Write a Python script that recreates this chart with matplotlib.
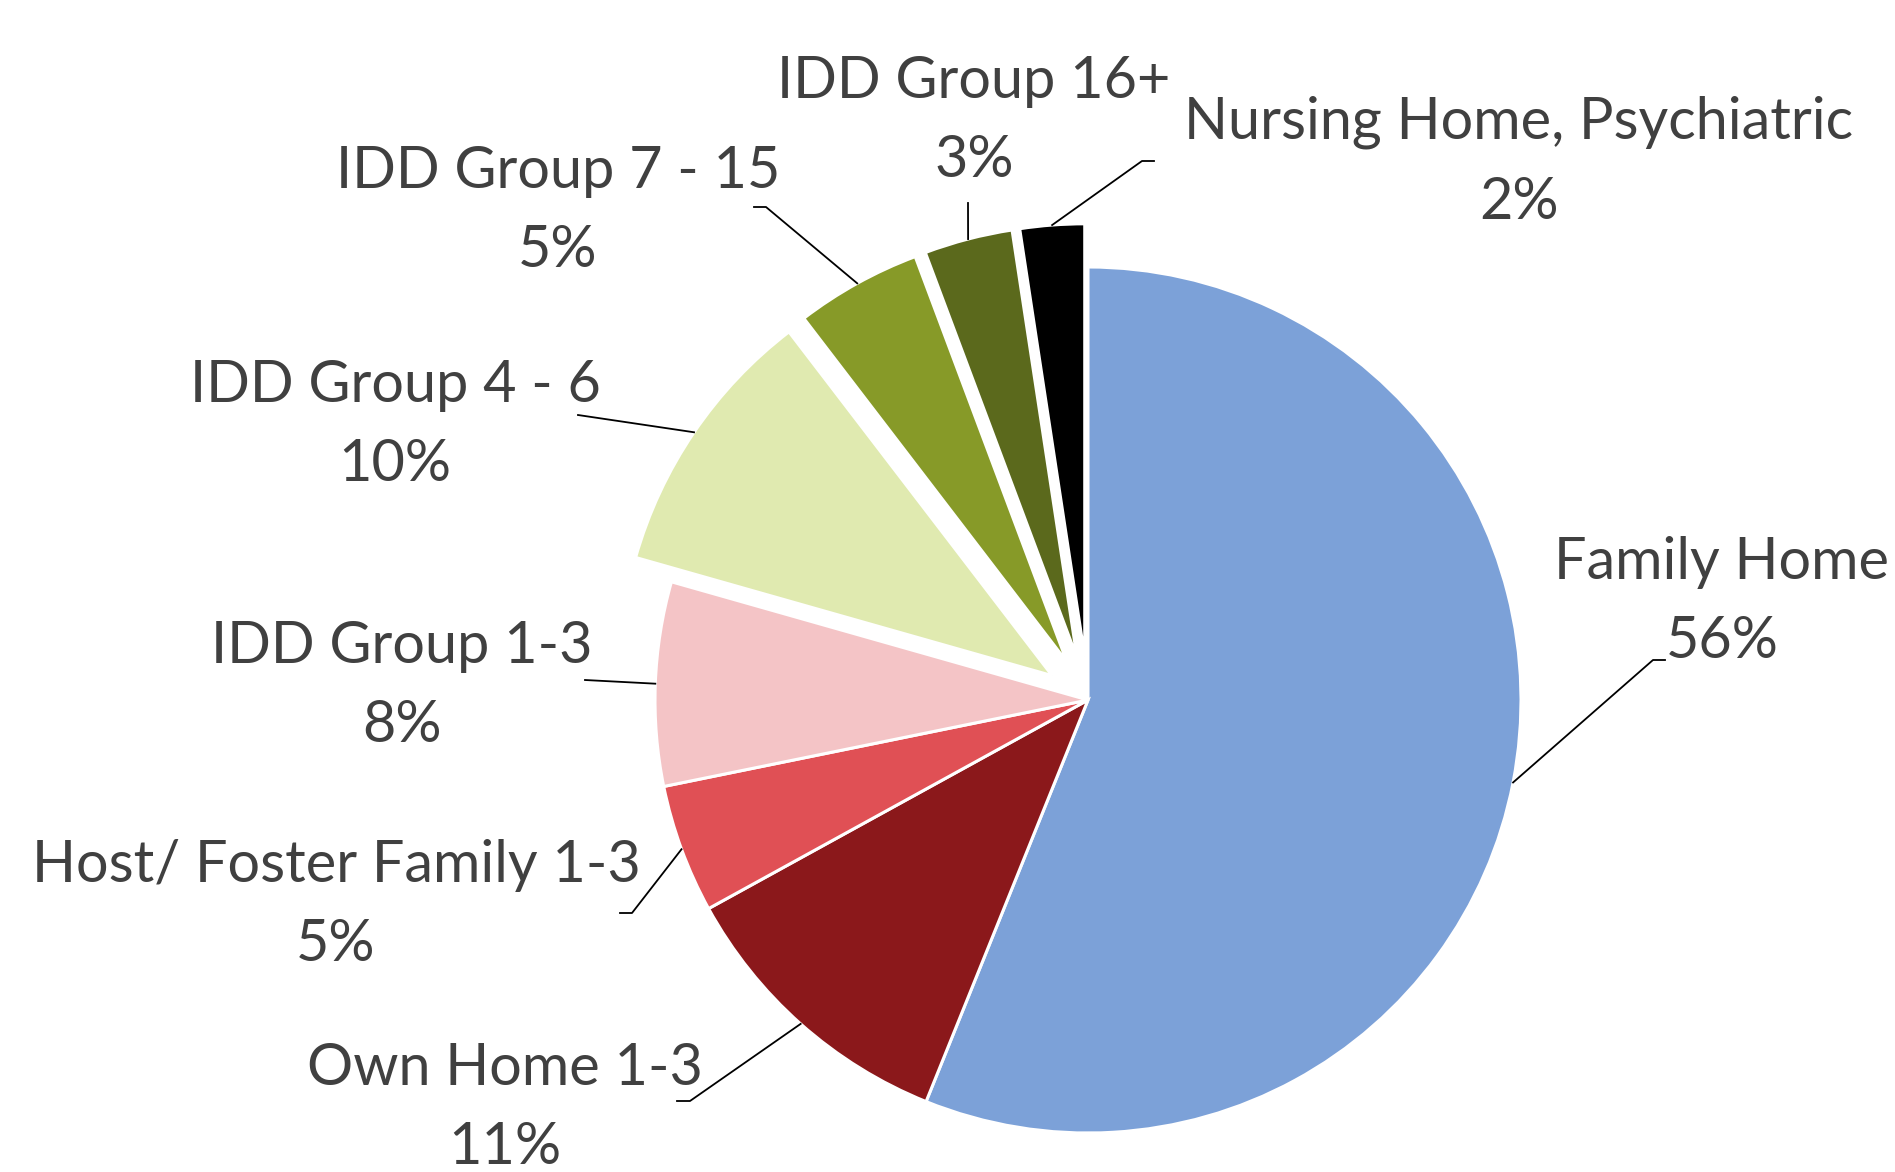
import numpy as np
import matplotlib.pyplot as plt

categories = ['Family Home', 'Own Home 1-3', 'Host/ Foster Family 1-3', 'IDD Group 1-3',
              'IDD Group 4 - 6', 'IDD Group 7 - 15', 'IDD Group 16+', 'Nursing Home, Psychiatric']
shares = [56.1, 10.9, 4.8, 7.6, 10.2, 4.7, 3.3, 2.4]
colors = ['#7CA1D8', '#8B181B', '#E05055', '#F4C4C6', '#E0EAB0', '#879A28', '#5B691C', '#000000']
explode = [0, 0, 0, 0, 0.1, 0.1, 0.1, 0.1]

W, H = 1895, 1172
CX, CY, R = 1088, 700, 433

# label centres and leader elbow/end points, image pixels (y down)
label_pos = [(1722, 602), (505, 1108), (336, 905), (402, 686),
             (395, 425), (558, 211), (974, 121), (1519, 162)]
leader_ends = [[(1653, 660), (1665, 660)],
               [(690, 1101), (677, 1101)],
               [(632, 913), (620, 913)],
               [(585, 680)],
               [(578, 415)],
               [(766, 207), (754, 207)],
               [(968, 203)],
               [(1142, 161), (1154, 161)]]

plt.rcParams['font.family'] = ['Lato', 'DejaVu Sans']

fig = plt.figure(figsize=(W / 100, H / 100), dpi=100)
ax = fig.add_axes([0, 0, 1, 1])

wedges, _ = ax.pie(shares, colors=colors, explode=[e * R for e in explode],
                   startangle=90, counterclock=False,
                   center=(CX, H - CY), radius=R,
                   wedgeprops=dict(edgecolor='white', linewidth=2.2))
ax.set_xlim(0, W)
ax.set_ylim(0, H)
ax.set_aspect('equal')
ax.axis('off')

for w, cat, val, (lx, ly), ends in zip(wedges, categories, shares, label_pos, leader_ends):
    mid = np.deg2rad((w.theta1 + w.theta2) / 2)
    sx = w.center[0] + w.r * np.cos(mid)
    sy = w.center[1] + w.r * np.sin(mid)
    xs = [sx] + [p[0] for p in ends]
    ys = [sy] + [H - p[1] for p in ends]
    ax.plot(xs, ys, color='black', lw=1.3, zorder=3)
    ax.text(lx, H - ly, f'{cat}\n{round(val)}%', ha='center', va='center',
            fontsize=41.5, color='#404040', linespacing=1.62)

fig.savefig('out.png', dpi=100)
